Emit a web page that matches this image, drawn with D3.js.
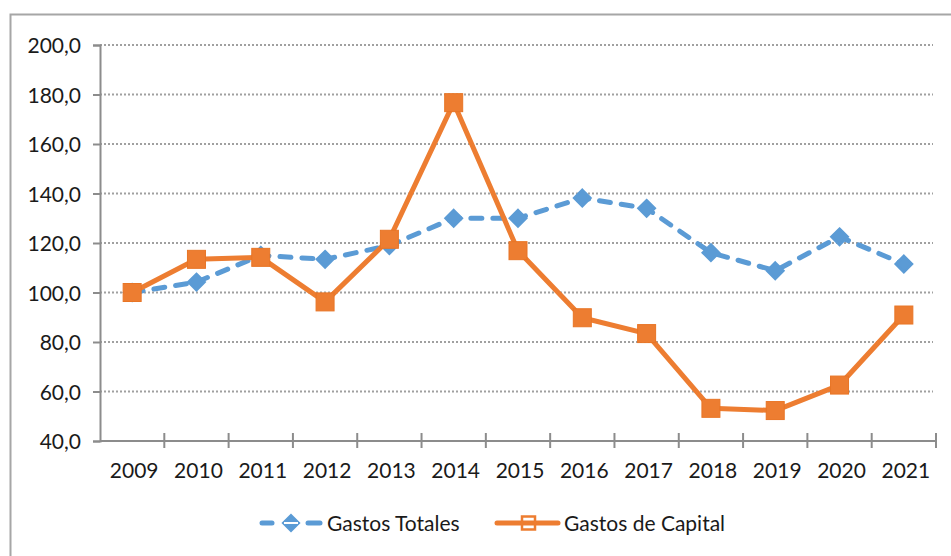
<!DOCTYPE html>
<html>
<head>
<meta charset="utf-8">
<script src="https://cdn.jsdelivr.net/npm/d3@7"></script>
<style>
  body { margin: 0; background: #fff; }
  svg text { font-family: Lato, "Open Sans", sans-serif; fill: #1a1a1a; }
</style>
</head>
<body>
<svg id="chart" width="951" height="556"></svg>
<script>
// data
var years = ["2009","2010","2011","2012","2013","2014","2015","2016","2017","2018","2019","2020","2021"];
var gastosTotales = [100, 104.2, 115, 113.4, 119, 130, 130, 138.2, 134, 116.1, 108.8, 122.5, 111.5];
var gastosCapital = [100, 113.4, 114.2, 96.2, 121.5, 176.7, 116.9, 89.8, 83.4, 53.2, 52.3, 62.6, 90.9];
var yTicks = [40, 60, 80, 100, 120, 140, 160, 180, 200];
var seriesNames = ["Gastos Totales", "Gastos de Capital"];

var blue = "#5B9BD5", orange = "#ED7D31", axisGray = "#8c8c8c";
var fs = 21;

var svg = d3.select("#chart");

// outer frame
svg.append("rect")
  .attr("x", 10.5).attr("y", 14.5)
  .attr("width", 1000).attr("height", 600)
  .attr("fill", "none").attr("stroke", "#a6a6a6").attr("stroke-width", 2);

var x = d3.scaleBand().domain(years).range([100, 936]).padding(0);
var y = d3.scaleLinear().domain([40, 200]).range([441, 45]);
var cx = function(d){ return x(d) + x.bandwidth()/2; };

// grid
svg.append("g").selectAll("line")
  .data(yTicks.filter(function(d){ return d > 40; }))
  .enter().append("line")
  .attr("x1", 100).attr("x2", 933)
  .attr("y1", function(d){ return y(d); })
  .attr("y2", function(d){ return y(d); })
  .attr("stroke", "#a0a0a0").attr("stroke-width", 2)
  .attr("stroke-dasharray", "2,2");

// y axis
var yAxis = svg.append("g")
  .attr("transform", "translate(100,0)")
  .call(d3.axisLeft(y).tickValues(yTicks).tickSize(7).tickPadding(12)
    .tickFormat(function(d){ return d.toFixed(1).replace(".", ","); }));
yAxis.select(".domain").attr("stroke", axisGray).attr("stroke-width", 2);
yAxis.selectAll(".tick line").attr("stroke", axisGray).attr("stroke-width", 2);
yAxis.selectAll(".tick text")
  .attr("font-size", fs).attr("font-family", "Lato").attr("fill", "#1a1a1a")
  .attr("dy", "0.36em");

// x axis line with ticks at category edges
svg.append("line")
  .attr("x1", 100).attr("x2", 936).attr("y1", y(40)).attr("y2", y(40))
  .attr("stroke", axisGray).attr("stroke-width", 2);
var edges = years.map(function(d){ return x(d); }).concat([x.range()[1]]);
svg.append("g").selectAll("line")
  .data(edges.slice(1))
  .enter().append("line")
  .attr("x1", function(d){ return d; }).attr("x2", function(d){ return d; })
  .attr("y1", y(40) - 8).attr("y2", y(40) + 7)
  .attr("stroke", axisGray).attr("stroke-width", 2);
svg.append("g").selectAll("text")
  .data(years)
  .enter().append("text")
  .attr("x", function(d){ return cx(d) + 2; })
  .attr("y", 478)
  .attr("text-anchor", "middle")
  .attr("font-size", fs)
  .text(function(d){ return d; });

var line = d3.line()
  .x(function(d, i){ return cx(years[i]); })
  .y(function(d){ return y(d); });

// Gastos Totales
svg.append("path")
  .datum(gastosTotales)
  .attr("d", line)
  .attr("fill", "none").attr("stroke", blue).attr("stroke-width", 5)
  .attr("stroke-dasharray", "11,11").attr("stroke-linecap", "round");
var diamond = d3.symbol().type(d3.symbolDiamond2).size(170);
svg.append("g").selectAll("path")
  .data(gastosTotales)
  .enter().append("path")
  .attr("d", diamond)
  .attr("transform", function(d, i){ return "translate(" + cx(years[i]) + "," + y(d) + ")"; })
  .attr("fill", blue).attr("stroke", blue).attr("stroke-width", 2.5);

// Gastos de Capital
svg.append("path")
  .datum(gastosCapital)
  .attr("d", line)
  .attr("fill", "none").attr("stroke", orange).attr("stroke-width", 5)
  .attr("stroke-linejoin", "round");
svg.append("g").selectAll("rect")
  .data(gastosCapital)
  .enter().append("rect")
  .attr("x", function(d, i){ return cx(years[i]) - 9; })
  .attr("y", function(d){ return y(d) - 9; })
  .attr("width", 18).attr("height", 18)
  .attr("fill", orange).attr("stroke", "#e87526").attr("stroke-width", 1);

// legend
var lg = svg.append("g");
var ly = 523;
lg.append("line").attr("x1", 262).attr("x2", 272).attr("y1", ly).attr("y2", ly)
  .attr("stroke", blue).attr("stroke-width", 5).attr("stroke-linecap", "round");
lg.append("line").attr("x1", 308).attr("x2", 320).attr("y1", ly).attr("y2", ly)
  .attr("stroke", blue).attr("stroke-width", 5).attr("stroke-linecap", "round");
lg.append("path").attr("d", diamond)
  .attr("transform", "translate(291," + ly + ")")
  .attr("fill", blue).attr("stroke", blue).attr("stroke-width", 2);
lg.append("line").attr("x1", 284).attr("x2", 298).attr("y1", ly).attr("y2", ly)
  .attr("stroke", "#fff").attr("stroke-width", 2);
lg.append("text").attr("x", 327).attr("y", 531).attr("font-size", fs).text(seriesNames[0]);

lg.append("line").attr("x1", 497).attr("x2", 558).attr("y1", ly).attr("y2", ly)
  .attr("stroke", orange).attr("stroke-width", 5).attr("stroke-linecap", "round");
lg.append("rect").attr("x", 522).attr("y", ly - 6.5).attr("width", 13).attr("height", 13)
  .attr("fill", "none").attr("stroke", orange).attr("stroke-width", 2.5);
lg.append("text").attr("x", 564).attr("y", 531).attr("font-size", fs).text(seriesNames[1]);
</script>
</body>
</html>
